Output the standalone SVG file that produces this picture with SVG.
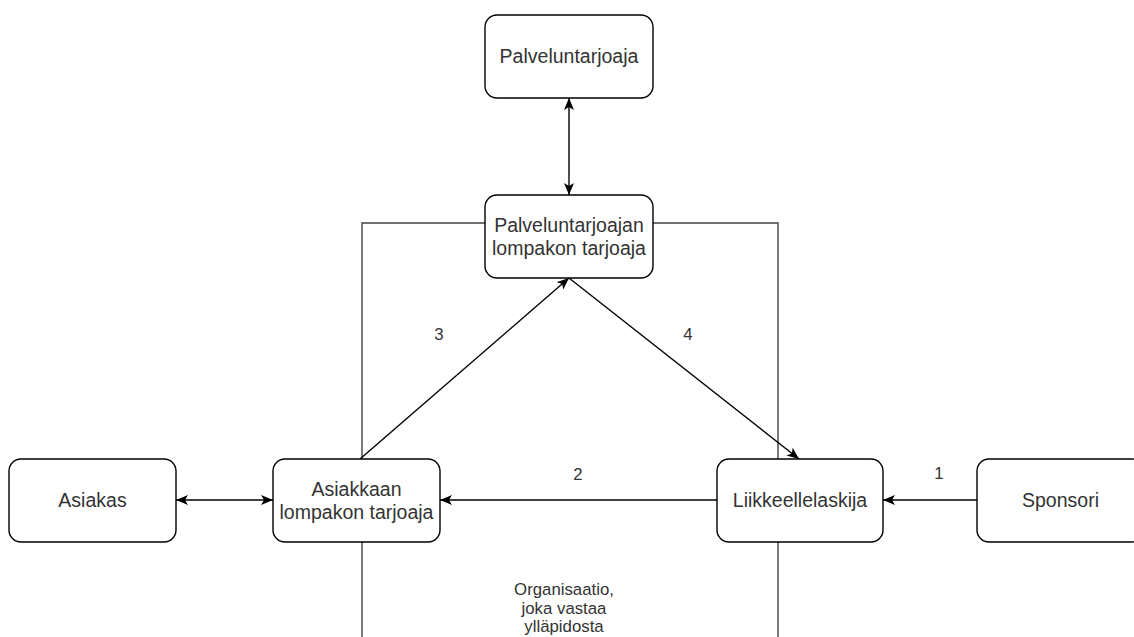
<svg xmlns="http://www.w3.org/2000/svg" width="1134" height="637" viewBox="0 0 1134 637">
  <style>
    .box { fill: #ffffff; stroke: #000000; stroke-width: 1.4; }
    .lbl { font-family: "Liberation Sans", Arial, sans-serif; font-size: 19.5px; fill: #333333; text-anchor: middle; }
    .small { font-family: "Liberation Sans", Arial, sans-serif; font-size: 16.8px; fill: #333333; text-anchor: middle; }
    .edge { fill: none; stroke: #000000; stroke-width: 1.4; }
    .frame { fill: none; stroke: #444444; stroke-width: 1.4; }
  </style>
  <defs>
    <marker id="arrow" viewBox="0 0 12 10" refX="12" refY="5" markerWidth="12" markerHeight="10" markerUnits="userSpaceOnUse" orient="auto-start-reverse">
      <path d="M0,0 L12,5 L0,10 L3,5 Z" fill="#000000"/>
    </marker>
  </defs>

  <rect width="1134" height="637" fill="#ffffff"/>

  <!-- organisation boundary (open at the bottom) -->
  <g id="organisation">
    <path class="frame" d="M362,640 L362,223 L778,223 L778,640"/>
    <text class="small" x="564" y="595">Organisaatio,</text>
    <text class="small" x="564" y="614">joka vastaa</text>
    <text class="small" x="564" y="632">ylläpidosta</text>
  </g>

  <!-- connectors -->
  <g id="connectors">
    <line class="edge" x1="569" y1="98" x2="569" y2="195" marker-start="url(#arrow)" marker-end="url(#arrow)"/>
    <line class="edge" x1="176" y1="500" x2="273" y2="500" marker-start="url(#arrow)" marker-end="url(#arrow)"/>
    <line class="edge" x1="717" y1="500" x2="440" y2="500" marker-end="url(#arrow)"/>
    <line class="edge" x1="977" y1="500" x2="883" y2="500" marker-end="url(#arrow)"/>
    <line class="edge" x1="360" y1="459" x2="569" y2="278" marker-end="url(#arrow)"/>
    <line class="edge" x1="569" y1="278" x2="799" y2="459" marker-end="url(#arrow)"/>
    <text class="small" x="939" y="479">1</text>
    <text class="small" x="578" y="480">2</text>
    <text class="small" x="439" y="340">3</text>
    <text class="small" x="688" y="340">4</text>
  </g>

  <g id="palveluntarjoaja">
    <rect class="box" x="485" y="15" width="168" height="83" rx="12"/>
    <text class="lbl" x="569" y="63">Palveluntarjoaja</text>
  </g>

  <g id="palveluntarjoajan-lompakko">
    <rect class="box" x="485" y="195" width="168" height="83" rx="12"/>
    <text class="lbl" x="569" y="232">Palveluntarjoajan</text>
    <text class="lbl" x="569" y="255">lompakon tarjoaja</text>
  </g>

  <g id="asiakas">
    <rect class="box" x="9" y="459" width="167" height="83" rx="12"/>
    <text class="lbl" x="92.5" y="507">Asiakas</text>
  </g>

  <g id="asiakkaan-lompakko">
    <rect class="box" x="273" y="459" width="167" height="83" rx="12"/>
    <text class="lbl" x="356.5" y="496">Asiakkaan</text>
    <text class="lbl" x="356.5" y="519">lompakon tarjoaja</text>
  </g>

  <g id="liikkeellelaskija">
    <rect class="box" x="717" y="459" width="166" height="83" rx="12"/>
    <text class="lbl" x="800" y="507">Liikkeellelaskija</text>
  </g>

  <g id="sponsori">
    <rect class="box" x="977" y="459" width="167" height="83" rx="12"/>
    <text class="lbl" x="1060.5" y="507">Sponsori</text>
  </g>
</svg>
